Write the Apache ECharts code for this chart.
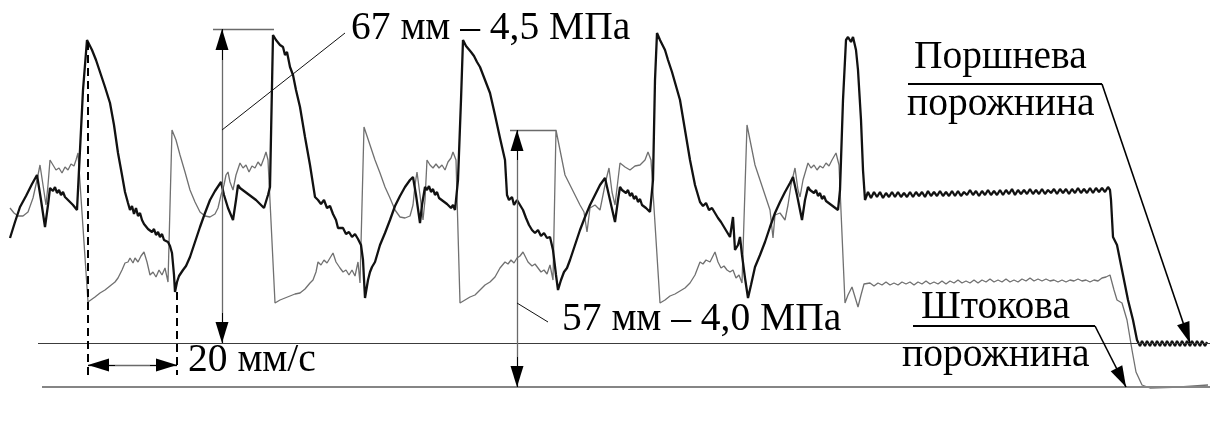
<!DOCTYPE html>
<html>
<head>
<meta charset="utf-8">
<script src="https://cdn.jsdelivr.net/npm/echarts@6/dist/echarts.min.js"></script>
<style>
html, body { margin: 0; padding: 0; background: #fff; }
#chart { width: 1215px; height: 421px; }
</style>
</head>
<body>
<div id="chart"></div>
<script>
// trace points: [x along record, y down the sheet]
var blackCycles = [
	[10,238],[15,222],[20,207],[26,196],[32,184],[37,175],[41,200],[45,227],[48,205],[50,188],[53,191],[55,187],[57,193],[59,190],[61,195],[63,192],[65,197],[67,196],[69,201],[71,199],[73,205],[75,203],[77,210],[78,208],
	[80,150],[83,90],[87,40],[89,42],[92,50],[96,60],[100,72],[105,87],[110,103],[114,125],[118,153],[122,175],[125,192],[128,203],[130,210],[132,206],[134,214],[136,208],[138,216],[140,213],[142,220],[144,224],[146,222],[148,229],[150,227],[152,232],[154,229],[156,235],[158,232],[160,237],[162,234],[164,240],[166,238],[168,242],[170,246],[172,253],[174,275],[175,292],
	[177,282],[179,276],[181,278],[183,270],[186,266],[190,257],[195,242],[200,227],[205,213],[210,200],[215,191],[221,182],[224,195],[228,208],[233,220],[236,200],[238,185],[240,188],[242,186],[244,191],[246,189],[248,194],[250,192],[252,197],[254,195],[256,200],[258,198],[260,204],[262,202],[264,208],[266,210],[268,195],[270,187],
	[273,35],[276,40],[278,38],[280,45],[283,47],[285,55],[287,52],[290,67],[293,75],[296,90],[300,107],[305,137],[310,165],[315,197],[318,200],[321,204],[324,200],[327,208],[330,206],[333,214],[336,220],[338,228],[340,230],[343,228],[346,234],[349,232],[352,237],[355,234],[358,239],[361,245],[363,260],[365,298],
	[368,280],[370,272],[372,267],[375,262],[380,245],[385,233],[390,220],[395,206],[400,196],[405,187],[410,180],[413,177],[416,195],[420,223],[422,205],[425,187],[427,190],[429,186],[431,192],[433,189],[435,195],[437,192],[439,198],[441,196],[443,201],[445,199],[447,204],[449,202],[451,208],[453,205],[455,210],[458,180],
	[461,100],[463,40],[466,46],[468,44],[471,52],[474,56],[477,62],[480,67],[485,80],[490,93],[495,115],[500,138],[505,160],[507,195],[509,200],[512,197],[514,205],[517,200],[520,205],[523,210],[526,218],[529,225],[532,230],[535,233],[538,230],[541,236],[544,233],[547,238],[550,237],[553,250],[556,275],[558,290],
	[561,280],[564,272],[567,268],[570,260],[575,245],[580,230],[585,217],[590,205],[595,195],[600,185],[605,178],[610,200],[615,222],[618,200],[620,187],[622,190],[624,188],[626,193],[628,190],[630,196],[632,193],[634,199],[636,196],[638,202],[640,199],[642,205],[644,203],[646,208],[648,206],[650,212],[653,180],
	[655,80],[657,33],[660,40],[662,38],[665,50],[668,60],[672,72],[676,86],[680,100],[685,130],[690,160],[695,185],[700,202],[703,206],[706,203],[709,210],[712,208],[715,213],[718,218],[721,222],[724,227],[727,232],[730,237],[733,217],[735,250],[738,245],[740,237],[742,255],[745,278],[748,298],
	[751,285],[755,267],[760,255],[765,242],[770,227],[775,213],[780,202],[785,192],[790,183],[793,177],[797,195],[802,220],[805,200],[808,187],[810,190],[812,188],[814,193],[816,190],[818,196],[820,193],[822,199],[824,196],[826,201],[828,199],[830,204],[832,202],[834,207],[836,205],[838,210],[840,190],
	[843,100],[846,40],[848,37],[851,42],[853,37],[856,50],[858,70],[861,120],[863,170],[865,200]
];
var blackFlat = [
	[865,198],[868,192],[871,198],[874,192],[877,197],[880,192],[883,198],[886,193],[889,197],[892,192],[895,197],[898,192],[901,197],[904,193],[907,197],[910,192],[913,197],[916,192],[919,196],[922,192],[925,197],[928,191],[931,196],[934,192],[937,196],[940,191],[943,196],[946,192],[949,196],[952,191],[955,196],[958,191],[961,196],[964,192],[967,195],[970,190],[973,195],[976,191],[979,196],[982,191],[985,195],[988,190],[991,195],[994,191],[997,195],[1000,190],[1003,195],[1006,190],[1009,194],[1012,189],[1015,195],[1018,190],[1021,194],[1024,190],[1027,194],[1030,189],[1033,194],[1036,190],[1039,194],[1042,189],[1045,194],[1048,190],[1051,193],[1054,189],[1057,194],[1060,189],[1063,193],[1066,189],[1069,194],[1072,189],[1075,193],[1078,188],[1081,193],[1084,189],[1087,193],[1090,188],[1093,193],[1096,188],[1099,192],[1102,188],[1105,192],[1108,187]
];
var blackDrop = [[1110,190],[1111,200],[1113,237],[1117,245],[1122,270],[1128,300],[1133,320],[1137,340]];
var blackEnd = [
	[1140,346],[1142,341],[1145,346],[1147,341],[1150,346],[1152,341],[1155,346],[1157,341],[1160,346],[1162,341],[1165,346],[1167,341],[1170,346],[1172,341],[1175,346],[1177,341],[1180,346],[1182,341],[1185,346],[1187,341],[1190,346],[1192,341],[1195,346],[1197,341],[1200,346],[1202,341],[1205,346],[1207,342]
];

var grayCycles = [
	[10,208],[14,213],[18,216],[23,216],[28,212],[33,198],[37,180],[40,165],[43,185],[46,205],[48,185],[50,160],[53,165],[56,170],[59,168],[62,173],[65,167],[68,170],[71,164],[74,166],[76,160],[78,153],
	[88,302],
	[95,297],[100,293],[105,290],[110,286],[115,282],[118,278],[122,270],[125,263],[128,262],[130,258],[133,263],[135,258],[138,262],[141,256],[144,252],[147,262],[150,275],[153,272],[156,277],[159,270],[162,275],[165,268],[168,282],
	[172,130],
	[176,140],[180,155],[185,172],[190,190],[195,202],[200,212],[205,216],[210,217],[215,214],[218,208],[221,195],[224,185],[226,175],[228,172],[230,182],[233,190],[236,175],[240,163],[243,168],[246,165],[249,172],[252,166],[255,168],[258,162],[261,166],[264,158],[266,152],[268,160],
	[275,303],
	[280,300],[285,298],[290,296],[295,294],[300,293],[305,289],[310,283],[313,280],[316,272],[318,262],[321,265],[324,260],[327,263],[330,258],[333,253],[336,262],[340,268],[343,272],[346,270],[349,275],[352,270],[355,276],[358,262],[360,283],
	[364,127],
	[370,145],[375,160],[380,173],[385,187],[390,198],[395,210],[400,217],[405,218],[410,216],[413,205],[415,185],[417,172],[420,195],[423,220],[425,200],[427,160],[430,165],[433,168],[436,164],[439,168],[442,165],[445,170],[448,162],[451,158],[453,152],[456,160],
	[460,303],
	[465,300],[470,297],[475,295],[480,290],[485,285],[490,282],[495,277],[500,268],[505,262],[508,264],[511,260],[514,263],[517,258],[520,256],[523,252],[525,250],[528,262],[532,266],[535,264],[538,268],[541,272],[544,270],[547,274],[550,265],[553,280],
	[556,130],
	[560,150],[565,175],[570,185],[575,195],[580,205],[584,212],[587,232],[590,208],[595,205],[600,210],[603,195],[606,180],[609,168],[612,192],[615,205],[620,163],[625,167],[630,170],[635,166],[640,165],[645,160],[648,152],[651,160],
	[660,303],
	[665,300],[670,296],[675,294],[680,291],[685,288],[690,283],[695,275],[700,262],[703,264],[706,260],[710,262],[713,256],[715,252],[718,262],[721,268],[724,266],[727,270],[730,272],[733,270],[736,278],[739,275],[742,283],
	[747,125],
	[751,145],[755,165],[760,180],[765,195],[770,210],[773,238],[775,215],[780,213],[785,220],[788,205],[791,185],[795,168],[798,190],[800,197],[803,180],[808,163],[811,168],[814,165],[817,170],[820,166],[823,168],[826,163],[829,166],[832,160],[836,153],[839,165],
	[845,303],[848,295],[852,287],[855,297],[858,307],[861,295],[864,284]
];
var grayFlat = [
	[866,285],[870,283],[874,286],[878,283],[882,285],[886,282],[890,285],[894,283],[898,285],[902,282],[906,284],[910,282],[914,285],[918,282],[922,284],[926,281],[930,284],[934,282],[938,284],[942,281],[946,284],[950,281],[954,283],[958,280],[962,283],[966,281],[970,283],[974,280],[978,283],[982,280],[986,282],[990,279],[994,282],[998,280],[1002,282],[1006,279],[1010,282],[1014,280],[1018,282],[1022,279],[1026,281],[1030,278],[1034,281],[1038,279],[1042,281],[1046,279],[1050,281],[1054,280],[1058,282],[1062,280],[1066,282],[1070,280],[1074,281],[1078,279],[1082,281],[1086,280],[1090,282],[1094,280],[1098,281],[1102,278],[1106,277],[1110,275]
];
var grayDrop = [[1114,290],[1117,300],[1122,303],[1127,320],[1132,350],[1136,372],[1142,385],[1150,388],[1180,387],[1208,385]];

// reference lines and dimension marks
var baseLines = [[[38,343],[1210,343]], [[42,387],[1210,387]]];
var dimLines = [[[213,29],[274,29]], [[222,29],[222,343]], [[510,130],[556,130]], [[517,130],[517,387]], [[88,365],[177,365]]];
var leaderLines = [[[222,130],[345,33]], [[517,303],[548,322]]];
var dashLines = [[[88,42],[88,375]], [[177,292],[177,375]]];
var underLines = [[[908,84],[1102,84]], [[913,326],[1095,326]]];
var pointerLines = [[[1102,84],[1190,343]], [[1095,326],[1126,387]]];
var arrowHeads = [[[222,60],[222,29]], [[222,313],[222,343]], [[517,160],[517,130]], [[517,357],[517,387]], [[115,365],[88,365]], [[150,365],[177,365]]];

var labels = [
	["67 мм – 4,5 МПа", 351, 42],
	["57 мм – 4,0 МПа", 562, 333],
	["20 мм/с", 188, 374],
	["Поршнева", 914, 71],
	["порожнина", 907, 118],
	["Штокова", 921, 321],
	["порожнина", 902, 369]
];

function segs(list, color, width, type, arrowEnd) {
	return list.map(function (s) {
		return [
			{ coord: s[0], symbol: 'none', lineStyle: { color: color, width: width, type: type } },
			{ coord: s[1], symbol: arrowEnd ? 'triangle' : 'none', symbolSize: [13, 21], symbolOffset: [0, '50%'] }
		];
	});
}

var chart = echarts.init(document.getElementById('chart'));

var marks = [].concat(
	segs(baseLines.slice(0, 1), '#3c3c3c', 1.2, 'solid'),
	segs(baseLines.slice(1), '#858585', 2.2, 'solid'),
	segs(dimLines, '#6a6a6a', 1.3, 'solid'),
	segs(leaderLines, '#111', 1, 'solid'),
	segs(dashLines, '#000', 2, [8, 5]),
	segs(underLines, '#000', 2, 'solid'),
	segs(pointerLines, '#000', 1.6, 'solid', true),
	segs(arrowHeads, '#000', 1, 'solid', true)
);

var option = {
	animation: false,
	backgroundColor: '#fff',
	grid: { left: 0, right: 0, top: 0, bottom: 0 },
	xAxis: { type: 'value', min: 0, max: 1215, show: false },
	yAxis: { type: 'value', min: 0, max: 421, inverse: true, show: false },
	series: [
		{
			name: 'Штокова порожнина',
			type: 'line',
			data: grayCycles.concat(grayFlat, grayDrop),
			showSymbol: false,
			lineStyle: { color: '#707070', width: 1.3 },
			z: 2
		},
		{
			name: 'Поршнева порожнина',
			type: 'line',
			data: blackCycles.concat(blackFlat, blackDrop, blackEnd),
			showSymbol: false,
			lineStyle: { color: '#111', width: 2.3 },
			z: 3
		},
		{
			type: 'line',
			data: [],
			z: 4,
			markLine: {
				silent: true,
				animation: false,
				label: { show: false },
				emphasis: { disabled: true },
				data: marks
			}
		}
	],
	graphic: labels.map(function (l) {
		return {
			type: 'text',
			x: l[1],
			y: l[2] - 13,
			style: {
				text: l[0],
				font: '39.5px "Liberation Serif"',
				fill: '#000',
				textAlign: 'left',
				textVerticalAlign: 'middle'
			},
			z: 10
		};
	})
};
chart.setOption(option);
</script>
</body>
</html>
